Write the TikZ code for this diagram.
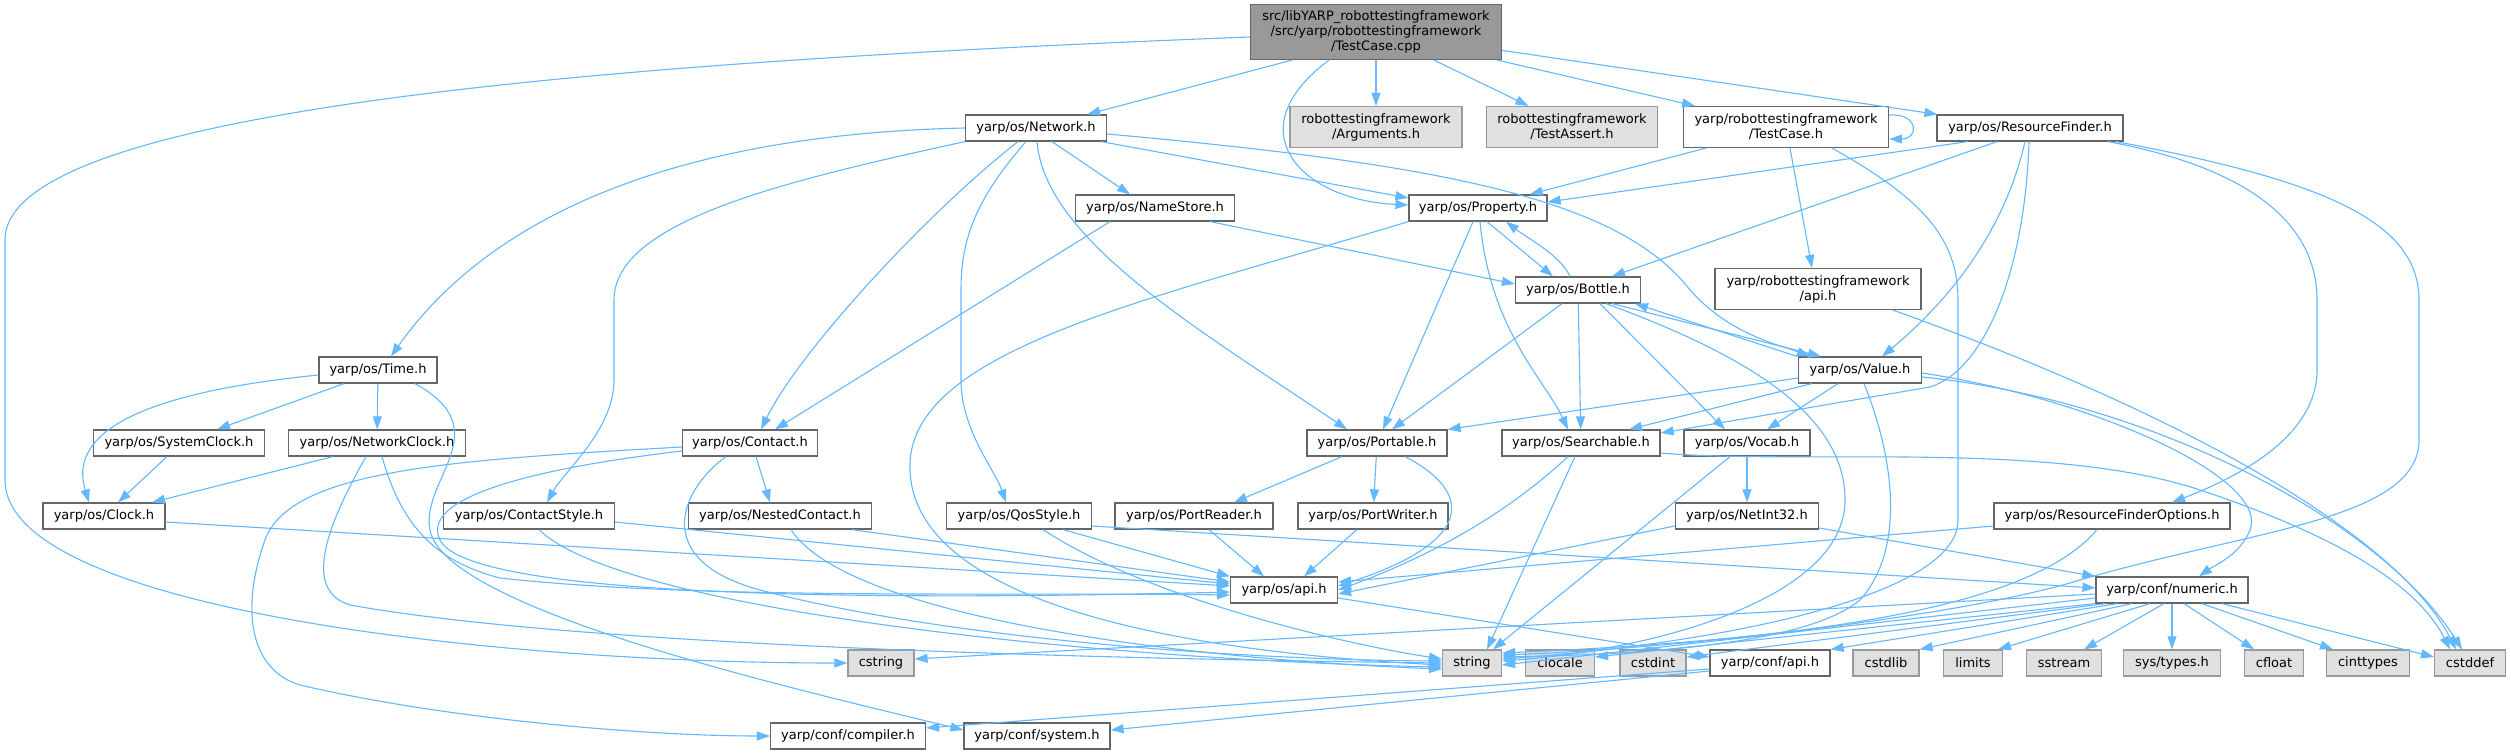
\documentclass[tikz,border=0pt]{standalone}
\usepackage{fontspec}
\setmainfont{DejaVu Sans}
\usetikzlibrary{arrows.meta}
\definecolor{edgeblue}{HTML}{63B8FF}
\definecolor{bordergray}{HTML}{666666}
\definecolor{lightborder}{HTML}{999999}
\definecolor{sysfill}{HTML}{E0E0E0}
\definecolor{rootfill}{HTML}{999999}
\begin{document}
\begin{tikzpicture}[x=1pt,y=-1pt,
  nd/.style={draw=bordergray, line width=1.2pt, fill=white, minimum height=26pt, inner sep=2pt, align=center, font=\fontsize{13}{15}\selectfont},
  sysh/.style={nd, draw=lightborder, fill=sysfill},
  rootn/.style={nd, draw=bordergray, fill=rootfill},
  edg/.style={draw=edgeblue, line width=1.1pt, -{Triangle[length=13pt,width=9pt]}}]
\fill[white] (0,0) rectangle (2511,755);
\useasboundingbox (0,0) rectangle (2511,755);

% nodes
\node[rootn, minimum width=251pt, minimum height=55pt] (root) at (1376,32) {src/libYARP\_robottestingframework\\/src/yarp/robottestingframework\\/TestCase.cpp};
\node[nd, minimum width=141pt] (net) at (1036,128) {yarp/os/Network.h};
\node[sysh, minimum width=172pt, minimum height=41pt] (args) at (1376,127) {robottestingframework\\/Arguments.h};
\node[sysh, minimum width=171pt, minimum height=41pt] (tassert) at (1572,127) {robottestingframework\\/TestAssert.h};
\node[nd, minimum width=205pt, minimum height=41pt] (rtc) at (1786,127) {yarp/robottestingframework\\/TestCase.h};
\node[nd, minimum width=186pt] (rf) at (2030,128) {yarp/os/ResourceFinder.h};
\node[nd, minimum width=159pt] (ns) at (1155,208) {yarp/os/NameStore.h};
\node[nd, minimum width=138pt] (prop) at (1478,208) {yarp/os/Property.h};
\node[nd, minimum width=125pt] (bottle) at (1578,290) {yarp/os/Bottle.h};
\node[nd, minimum width=206pt, minimum height=41pt] (rapi) at (1818,289) {yarp/robottestingframework\\/api.h};
\node[nd, minimum width=118pt] (time) at (378,370) {yarp/os/Time.h};
\node[nd, minimum width=123pt] (value) at (1860,370) {yarp/os/Value.h};
\node[nd, minimum width=171pt] (sysclk) at (179,443) {yarp/os/SystemClock.h};
\node[nd, minimum width=177pt] (netclk) at (377,443) {yarp/os/NetworkClock.h};
\node[nd, minimum width=135pt] (contact) at (750,443) {yarp/os/Contact.h};
\node[nd, minimum width=140pt] (portable) at (1377,443) {yarp/os/Portable.h};
\node[nd, minimum width=158pt] (search) at (1581,443) {yarp/os/Searchable.h};
\node[nd, minimum width=126pt] (vocab) at (1747,443) {yarp/os/Vocab.h};
\node[nd, minimum width=122pt] (clock) at (104,516) {yarp/os/Clock.h};
\node[nd, minimum width=171pt] (cstyle) at (529,516) {yarp/os/ContactStyle.h};
\node[nd, minimum width=183pt] (nested) at (780,516) {yarp/os/NestedContact.h};
\node[nd, minimum width=145pt] (qos) at (1019,516) {yarp/os/QosStyle.h};
\node[nd, minimum width=158pt] (preader) at (1194,516) {yarp/os/PortReader.h};
\node[nd, minimum width=150pt] (pwriter) at (1373,516) {yarp/os/PortWriter.h};
\node[nd, minimum width=143pt] (netint) at (1747,516) {yarp/os/NetInt32.h};
\node[nd, minimum width=236pt] (rfo) at (2112,516) {yarp/os/ResourceFinderOptions.h};
\node[nd, minimum width=107pt] (osapi) at (1284,590) {yarp/os/api.h};
\node[nd, minimum width=152pt] (numeric) at (2172,590) {yarp/conf/numeric.h};
\node[sysh, minimum width=66pt] (cstring) at (881,663) {cstring};
\node[sysh, minimum width=59pt] (string) at (1472,663) {string};
\node[sysh, minimum width=69pt] (clocale) at (1560,663) {clocale};
\node[sysh, minimum width=66pt] (cstdint) at (1653,663) {cstdint};
\node[nd, minimum width=120pt] (capi) at (1770,663) {yarp/conf/api.h};
\node[sysh, minimum width=66pt] (cstdlib) at (1886,663) {cstdlib};
\node[sysh, minimum width=59pt] (limits) at (1973,663) {limits};
\node[sysh, minimum width=75pt] (sstream) at (2064,663) {sstream};
\node[sysh, minimum width=97pt] (systypes) at (2172,663) {sys/types.h};
\node[sysh, minimum width=59pt] (cfloat) at (2274,663) {cfloat};
\node[sysh, minimum width=83pt] (cinttypes) at (2368,663) {cinttypes};
\node[sysh, minimum width=71pt] (cstddef) at (2470,663) {cstddef};
\node[nd, minimum width=155pt] (compiler) at (848,736) {yarp/conf/compiler.h};
\node[nd, minimum width=146pt] (system) at (1037,736) {yarp/conf/system.h};

% root
\draw[edg] ([yshift=-5]root.west) .. controls (600,62) and (5,110) .. (5,240) -- (5,480) .. controls (5,610) and (500,663) .. (cstring.west);
\draw[edg] ([xshift=-84]root.south) -- (net);
\draw[edg] ([xshift=-47]root.south) .. controls (1235,130) and (1300,200) .. ([yshift=3]prop.west);
\draw[edg] (root) -- (args);
\draw[edg] (root) -- (tassert);
\draw[edg] (root) -- (rtc);
\draw[edg] (root) -- (rf);

% rtf TestCase.h
\draw[edg] ([yshift=12]rtc.east) .. controls ([xshift=30,yshift=14]rtc.east) and ([xshift=30,yshift=-12]rtc.east) .. ([yshift=-12]rtc.east);
\draw[edg] (rtc) -- (prop);
\draw[edg] ([xshift=4]rtc.south) -- ([xshift=-6]rapi.north);
\draw[edg] ([xshift=46]rtc.south) .. controls (1925,200) and (1958,240) .. (1958,300) -- (1958,520) .. controls (1958,600) and (1700,645) .. ([yshift=4]string.east);

% ResourceFinder
\draw[edg] ([xshift=-62]rf.south) -- ([yshift=6]prop.east);
\draw[edg] ([xshift=-33]rf.south) -- ([xshift=34]bottle.north);
\draw[edg] ([xshift=-5]rf.south) .. controls (2005,230) and (1950,300) .. ([xshift=22]value.north);
\draw[edg] ([xshift=-1]rf.south) .. controls (2025,270) and (1985,370) .. (1930,387) -- ([yshift=10]search.east);
\draw[edg] ([xshift=78]rf.south) .. controls (2260,170) and (2317,230) .. (2317,300) -- (2317,370) .. controls (2317,440) and (2230,480) .. ([xshift=60]rfo.north);
\draw[edg] ([xshift=86]rf.south) .. controls (2320,180) and (2419,220) .. (2419,300) -- (2419,440) .. controls (2419,520) and (2250,530) .. (2080,580) .. controls (1950,620) and (1650,650) .. ([yshift=8]string.east);

% Network
\draw[edg] (net.west) .. controls (650,135) and (480,230) .. ([xshift=13]time.north);
\draw[edg] (net.south west) .. controls (790,180) and (614,220) .. (614,300) -- (614,380) .. controls (614,430) and (565,470) .. ([xshift=18]cstyle.north);
\draw[edg] ([xshift=-18]net.south) .. controls (930,210) and (800,350) .. ([xshift=11]contact.north);
\draw[edg] ([xshift=-10]net.south) .. controls (975,200) and (961,240) .. (961,290) -- (961,380) .. controls (961,430) and (995,470) .. ([xshift=-13]qos.north);
\draw[edg] ([xshift=1]net.south) .. controls (1045,240) and (1200,330) .. ([xshift=-30]portable.north);
\draw[edg] ([xshift=16]net.south) -- ([xshift=-25]ns.north);
\draw[edg] ([xshift=-6]net.south east) -- ([yshift=10]prop.west);
\draw[edg] ([yshift=-6]net.east) .. controls (1450,165) and (1620,200) .. (1690,290) .. controls (1730,335) and (1780,345) .. ([xshift=-50]value.north);

% NameStore
\draw[edg] ([xshift=-45]ns.south) -- ([xshift=25]contact.north);
\draw[edg] ([xshift=55]ns.south) -- ([yshift=6]bottle.west);

% Property
\draw[edg] ([xshift=9]prop.south) -- ([xshift=-25]bottle.north);
\draw[edg] ([xshift=-8]bottle.north) .. controls (1560,255) and (1530,240) .. ([xshift=28]prop.south);
\draw[edg] ([xshift=-5]prop.south) -- ([xshift=6]portable.north);
\draw[edg] ([xshift=2]prop.south) .. controls (1490,330) and (1545,380) .. ([xshift=-13]search.north);
\draw[edg] (prop.south west) .. controls (1150,300) and (905,350) .. (910,470) .. controls (915,620) and (1250,655) .. ([yshift=-2]string.west);

% Bottle
\draw[edg] ([xshift=-16]bottle.south) -- ([xshift=15]portable.north);
\draw[edg] (bottle) -- (search);
\draw[edg] ([xshift=22]bottle.south) -- ([xshift=-22]vocab.north);
\draw[edg] ([xshift=34]bottle.south) -- ([xshift=-39]value.north);
\draw[edg] ([xshift=-63]value.north) -- ([xshift=57]bottle.south);
\draw[edg] ([xshift=28]bottle.south) .. controls (1760,360) and (1845,420) .. (1845,500) .. controls (1845,600) and (1650,650) .. ([yshift=2]string.east);

% rtf api
\draw[edg] ([xshift=75]rapi.south) .. controls (2200,420) and (2400,540) .. ([xshift=-14]cstddef.north);

% Time
\draw[edg] ([yshift=-5]time.west) .. controls (120,395) and (70,440) .. ([xshift=-15]clock.north);
\draw[edg] ([xshift=-34]time.south) -- ([xshift=38]sysclk.north);
\draw[edg] (time) -- (netclk);
\draw[edg] ([xshift=37]time.south) .. controls (500,430) and (420,480) .. (430,530) .. controls (445,610) and (800,690) .. ([yshift=6]system.west);

% clocks
\draw[edg] ([xshift=-12]sysclk.south) -- ([xshift=14]clock.north);
\draw[edg] ([xshift=-44]netclk.south) -- ([xshift=48]clock.north);
\draw[edg] ([xshift=-11]netclk.south) .. controls (330,520) and (300,590) .. (350,605) .. controls (600,650) and (1200,660) .. (string.west);
\draw[edg] ([xshift=5]netclk.south) .. controls (400,520) and (430,560) .. (500,578) .. controls (700,600) and (1000,592) .. ([yshift=-5]osapi.west);

% Contact
\draw[edg] ([xshift=6]contact.south) -- ([xshift=-10]nested.north);
\draw[edg] ([yshift=-4]contact.west) .. controls (450,460) and (290,470) .. (265,540) .. controls (240,610) and (250,670) .. (300,685) .. controls (450,720) and (650,736) .. (compiler.west);
\draw[edg] ([yshift=-8]contact.west) .. controls (520,470) and (420,500) .. (440,540) .. controls (470,600) and (900,600) .. ([yshift=-2]osapi.west);
\draw[edg] ([xshift=-24]contact.south) .. controls (680,490) and (650,560) .. (760,590) .. controls (950,640) and (1250,660) .. ([yshift=2]string.west);

% Portable
\draw[edg] ([xshift=-35]portable.south) -- ([xshift=40]preader.north);
\draw[edg] (portable) -- (pwriter);
\draw[edg] ([xshift=28]portable.south) .. controls (1470,490) and (1480,540) .. ([yshift=4]osapi.east);
\draw[edg] ([xshift=15]preader.south) -- ([xshift=-20]osapi.north);
\draw[edg] ([xshift=-16]pwriter.south) -- ([xshift=20]osapi.north);

% Searchable
\draw[edg] ([xshift=-13]search.south) .. controls (1500,520) and (1420,560) .. (osapi.east);
\draw[edg] ([xshift=-6]search.south) -- ([xshift=15]string.north);
\draw[edg] ([yshift=-10]search.east) .. controls (1800,465) and (2050,440) .. (2200,490) .. controls (2350,540) and (2420,590) .. ([xshift=-20]cstddef.north);

% Vocab
\draw[edg] (vocab) -- (netint);
\draw[edg] ([xshift=-17]vocab.south) -- ([xshift=21]string.north);

% Value
\draw[edg] ([yshift=-8]value.west) -- (portable.north east);
\draw[edg] ([xshift=-48]value.south) -- ([xshift=48]search.north);
\draw[edg] ([xshift=-22]value.south) -- ([xshift=20]vocab.north);
\draw[edg] ([xshift=4]value.south) .. controls (1895,460) and (1905,550) .. (1860,600) .. controls (1800,650) and (1600,655) .. ([yshift=6]string.east);
\draw[edg] ([yshift=-3]value.east) .. controls (2100,400) and (2270,480) .. (2250,530) .. controls (2240,555) and (2215,565) .. ([xshift=27]numeric.north);
\draw[edg] ([yshift=-7]value.east) .. controls (2150,400) and (2380,520) .. ([xshift=-8]cstddef.north);

% lower headers
\draw[edg] ([yshift=-6]clock.east) -- ([yshift=4]osapi.west);
\draw[edg] ([yshift=-6]cstyle.east) -- ([yshift=6]osapi.west);
\draw[edg] ([xshift=10]cstyle.south) .. controls (620,610) and (1100,660) .. ([yshift=-4]string.west);
\draw[edg] ([xshift=72]nested.south) -- ([yshift=8]osapi.west);
\draw[edg] ([xshift=11]nested.south) .. controls (850,620) and (1200,660) .. ([yshift=-6]string.west);
\draw[edg] ([xshift=44]qos.south) -- (osapi.north west);
\draw[edg] ([xshift=24]qos.south) .. controls (1150,600) and (1350,645) .. ([yshift=4]string.west);
\draw[edg] ([yshift=-10]qos.east) -- ([yshift=2]numeric.west);
\draw[edg] ([yshift=-10]netint.west) -- ([yshift=-4]osapi.east);
\draw[edg] ([yshift=-12]netint.east) -- (numeric.north west);
\draw[edg] ([yshift=-10]rfo.west) -- ([yshift=8]osapi.east);
\draw[edg] ([xshift=-15]rfo.south) .. controls (2030,610) and (1800,640) .. ([yshift=10]string.east);
\draw[edg] ([yshift=-8]osapi.east) -- ([yshift=6]capi.west);

% numeric
\draw[edg] ([yshift=-4]numeric.west) -- ([yshift=4]cstring.east);
\draw[edg] ([yshift=-8]numeric.west) -- ([yshift=-2]string.east);
\draw[edg] (numeric.south west) -- ([yshift=6]clocale.east);
\draw[edg] ([xshift=10]numeric.south west) -- ([yshift=6]cstdint.east);
\draw[edg] ([xshift=22]numeric.south west) -- (capi.north east);
\draw[edg] ([xshift=-40]numeric.south) -- (cstdlib.north east);
\draw[edg] ([xshift=-22]numeric.south) -- ([xshift=25]limits.north);
\draw[edg] ([xshift=-8]numeric.south) -- ([xshift=20]sstream.north);
\draw[edg] (numeric) -- (systypes);
\draw[edg] ([xshift=12]numeric.south) -- ([xshift=-20]cfloat.north);
\draw[edg] ([xshift=30]numeric.south) -- ([xshift=-35]cinttypes.north);
\draw[edg] ([xshift=50]numeric.south) -- ([yshift=6]cstddef.west);

% conf api
\draw[edg] ([yshift=-6]capi.west) -- ([yshift=8]compiler.east);
\draw[edg] ([yshift=-8]capi.west) -- ([yshift=6]system.east);
\end{tikzpicture}
\end{document}
